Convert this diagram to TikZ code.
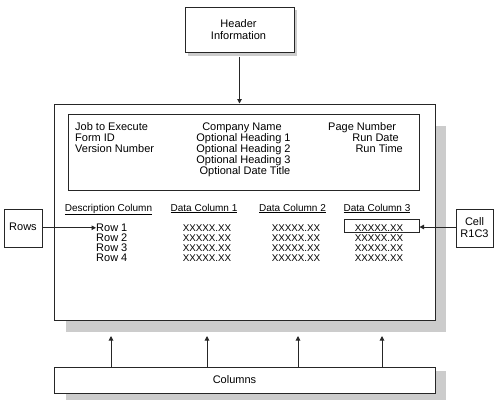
\documentclass[tikz,border=0pt]{standalone}
\usepackage{fontspec}
\setmainfont{Liberation Sans}
\usetikzlibrary{arrows.meta}
\tikzset{
  box/.style={draw=black!85, line width=1pt, fill=white, inner sep=0pt},
  shadowbox/.style={fill=black!20, draw=none},
  conn/.style={draw=black!85, line width=1pt, -{Triangle[length=4.5pt,width=4.5pt]}},
  txt/.style={inner sep=0pt, font=\fontsize{11}{11}\selectfont},
  colhead/.style={inner sep=0pt, font=\fontsize{10}{10}\selectfont},
  xx/.style={inner sep=0pt, font=\fontsize{9.8}{10}\selectfont},
}
\begin{document}
\begin{tikzpicture}[x=1pt,y=-1pt]
\useasboundingbox (0,0) rectangle (497,405);
% shadows
\fill[black!20] (188,10) rectangle (297,55.5);
\fill[black!20] (66,126) rectangle (446,332);
\fill[black!20] (66,371) rectangle (446,400);
% header box
\node[box, minimum width=109pt, minimum height=45pt] (hdr) at (239.5,29.5) {};
\node[txt, align=center, font=\fontsize{11}{12}\selectfont] (hdrt) at (238.5,29.5) {Header\\Information};
% main box
\node[box, minimum width=381pt, minimum height=216pt] (main) at (244.5,212) {};
\node[box, minimum width=351pt, minimum height=76pt] (inner) at (243.5,152) {};
% header texts
\node[txt, anchor=base west] (l1) at (75,130) {Job to Execute};
\node[txt, anchor=base west] (l2) at (75,141.2) {Form ID};
\node[txt, anchor=base west] (l3) at (75,152.4) {Version Number};
\node[txt, anchor=base] (m1) at (242,130) {Company Name};
\node[txt, anchor=base] (m2) at (243.5,141.2) {Optional Heading 1};
\node[txt, anchor=base] (m3) at (243.5,152.4) {Optional Heading 2};
\node[txt, anchor=base] (m4) at (243.5,163.6) {Optional Heading 3};
\node[txt, anchor=base] (m5) at (245,174.8) {Optional Date Title};
\node[txt, anchor=base west] (r1) at (328,130) {Page Number};
\node[txt, anchor=base east] (r2) at (399,141.2) {Run Date};
\node[txt, anchor=base east] (r3) at (403,152.4) {Run Time};
% column headers
\node[colhead, anchor=base] (ch0) at (108.5,211) {\underline{Description Column}};
\node[colhead, anchor=base] (ch1) at (204,211) {\underline{Data Column 1}};
\node[colhead, anchor=base] (ch2) at (292.5,211) {\underline{Data Column 2}};
\node[colhead, anchor=base] (ch3) at (377,211) {\underline{Data Column 3}};
% rows
\node[txt, anchor=base west] (row1) at (96,231.5) {Row 1};
\node[txt, anchor=base west] (row2) at (96,241.5) {Row 2};
\node[txt, anchor=base west] (row3) at (96,251.5) {Row 3};
\node[txt, anchor=base west] (row4) at (96,261.5) {Row 4};
\foreach \cx/\cn in {207/a,296/b,379/c}{
  \foreach \ry/\rn in {231.5/1,241.5/2,251.5/3,261.5/4}{
    \node[xx, anchor=base] (x\cn\rn) at (\cx,\ry) {XXXXX.XX};
  }
}
% highlighted cell
\node[draw=black!85, line width=1pt, minimum width=75pt, minimum height=13pt, inner sep=0pt] (cell) at (381.5,225.5) {};
% rows box
\node[box, minimum width=38pt, minimum height=38pt] (rows) at (23,228) {};
\node[txt] (rowst) at (23,227) {Rows};
% cell box
\node[box, minimum width=37pt, minimum height=38pt] (cellb) at (474.5,228) {};
\node[txt, align=center, font=\fontsize{11}{11.5}\selectfont] (cellt) at (474.5,227.5) {Cell\\R1C3};
% columns box
\node[box, minimum width=381pt, minimum height=26pt] (cols) at (244.5,380) {};
\node[txt] (colst) at (234.5,380) {Columns};
% connectors
\draw[conn, shorten <=4pt] (hdr.south) -- (hdr.south |- main.north);
\draw[conn] (rows.east |- row1.west) -- (row1.west);
\draw[conn] (cellb.west) ++(0,-1) coordinate (cw) (cw) -- (cw -| cell.east);
\foreach \px/\pn in {111/1,207/2,298/3,382/4}{
  \coordinate (tip\pn) at (\px,336);
  \draw[conn] (cols.north -| tip\pn) -- (tip\pn);
}
\end{tikzpicture}
\end{document}
